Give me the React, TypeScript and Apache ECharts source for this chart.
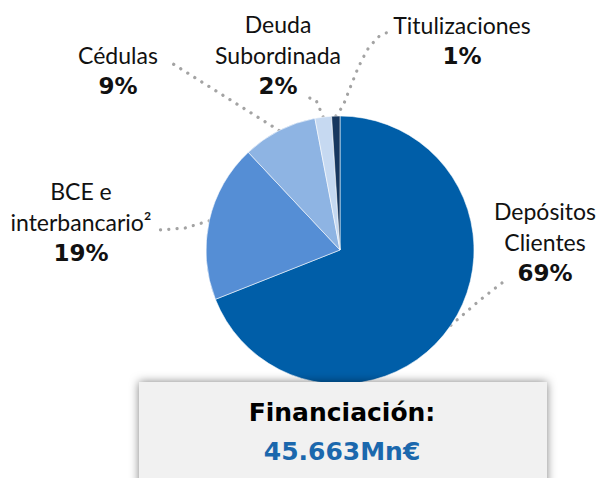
import React, { useEffect, useRef } from "react";
import * as echarts from "echarts";

// ---- data ----
const categories = [
  "Depósitos Clientes",
  "BCE e interbancario²",
  "Cédulas",
  "Deuda Subordinada",
  "Titulizaciones",
];
const labelTextLines = [
  ["Depósitos", "Clientes"],
  ["BCE e", "interbancario²"],
  ["Cédulas"],
  ["Deuda", "Subordinada"],
  ["Titulizaciones"],
];
const shares = [69, 19, 9, 2, 1];
const totalTitle = "Financiación:";
const totalValue = "45.663Mn€";

// ---- styles / layout ----
const sliceColors = ["#005EA8", "#558ED5", "#8EB4E3", "#C6D9F1", "#17375E"];
const labelAnchors = [
  [545, 242],
  [81, 222],
  [118, 70],
  [278, 55],
  [462, 40],
];
const guideTails = [
  [[480, 300], [507, 279]],
  [[185, 228], [160, 230]],
  [[170, 62]],
  [[316, 100], [303, 96]],
  [[343, 106], [350, 88], [358, 68], [367, 50], [378, 37], [388, 32]],
];

export default function App() {
  const ref = useRef<HTMLDivElement>(null);

  useEffect(() => {
    if (!ref.current) return;
    const chart = echarts.init(ref.current, undefined, { renderer: "svg" });

    const data = categories.map((name, i) => ({
      name,
      value: shares[i],
      itemStyle: { color: sliceColors[i] },
    }));

    chart.setOption({
      animation: false,
      backgroundColor: "#ffffff",
      series: [
        {
          type: "pie",
          center: [340, 250],
          radius: 134,
          startAngle: 90,
          clockwise: true,
          avoidLabelOverlap: false,
          z: 2,
          data,
          itemStyle: { borderColor: "rgba(255,255,255,0.7)", borderWidth: 0.8 },
          label: {
            show: true,
            position: "outside",
            formatter: (p: any) => {
              const lines = labelTextLines[p.dataIndex].map((t) => `{n|${t}}`);
              return [...lines, `{p|${p.value}%}`].join("\n");
            },
            rich: {
              n: {
                fontFamily: "Lato",
                fontSize: 23,
                color: "#111111",
                lineHeight: 31,
              },
              p: {
                fontFamily: "DejaVu Sans",
                fontWeight: "bold",
                fontSize: 23,
                color: "#111111",
                lineHeight: 31,
              },
            },
          },
          labelLine: {
            show: true,
            length: 10,
            length2: 10,
            lineStyle: {
              color: "#a3a3a3",
              width: 3.2,
              type: [0.1, 8.2],
              cap: "round",
            },
          },
          labelLayout: (params: any) => {
            const i = params.dataIndex;
            const start =
              params.labelLinePoints && params.labelLinePoints[0]
                ? params.labelLinePoints[0]
                : undefined;
            const res: any = {
              x: labelAnchors[i][0],
              y: labelAnchors[i][1],
              align: "center",
              verticalAlign: "middle",
            };
            if (start) res.labelLinePoints = [start, ...guideTails[i]];
            return res;
          },
        },
      ],
      graphic: [
        {
          type: "rect",
          z: 10,
          shape: { x: 139, y: 382, width: 408, height: 110 },
          style: {
            fill: "#f1f1f1",
            shadowBlur: 10,
            shadowColor: "rgba(0,0,0,0.5)",
          },
        },
        {
          type: "text",
          z: 11,
          x: 342,
          y: 412,
          style: {
            text: totalTitle,
            fontFamily: "DejaVu Sans",
            fontWeight: "bold",
            fontSize: 25,
            fill: "#000000",
            align: "center",
            verticalAlign: "middle",
          },
        },
        {
          type: "text",
          z: 11,
          x: 342,
          y: 451,
          style: {
            text: totalValue,
            fontFamily: "DejaVu Sans",
            fontWeight: "bold",
            fontSize: 25,
            fill: "#1B68AD",
            align: "center",
            verticalAlign: "middle",
          },
        },
      ],
    });

    return () => chart.dispose();
  }, []);

  return (
    <div
      ref={ref}
      style={{ position: "fixed", left: 0, top: 0, width: 599, height: 478 }}
    />
  );
}
